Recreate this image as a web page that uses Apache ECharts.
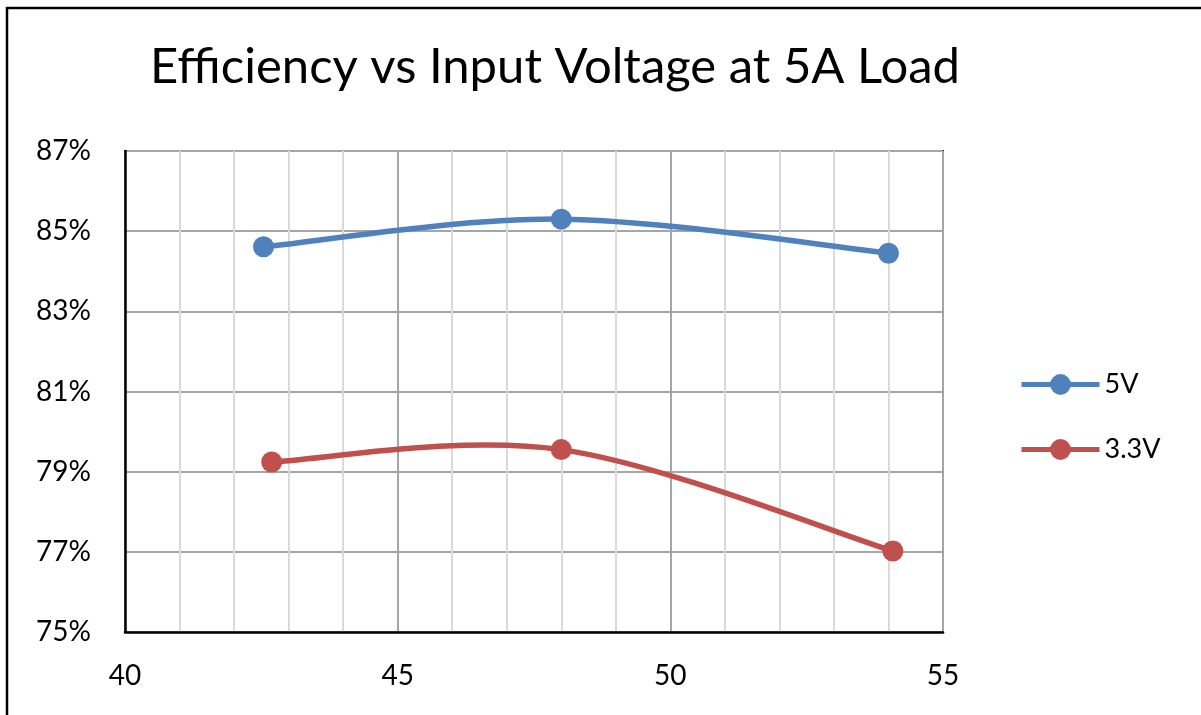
<!DOCTYPE html>
<html>
<head>
<meta charset="utf-8">
<title>Efficiency vs Input Voltage</title>
<script src="https://cdn.jsdelivr.net/npm/echarts@6/dist/echarts.min.js"></script>
<style>
  html, body { margin: 0; padding: 0; background: #fff; }
  #chart { width: 1201px; height: 715px; }
</style>
</head>
<body>
<div id="chart"></div>
<script>
  // input voltage (V) and efficiency (%)
  const vin5V = [42.54, 48.0, 54.0];
  const eff5V = [84.61, 85.30, 84.45];
  const vin3V3 = [42.69, 48.0, 54.08];
  const eff3V3 = [79.24, 79.55, 77.02];
  const seriesNames = ['5V', '3.3V'];
  const colors = ['#4f81bd', '#c0504d'];

  const font = 'Lato, "Noto Sans", sans-serif';
  const myChart = echarts.init(document.getElementById('chart'));

  const pairs = (xs, ys) => xs.map((x, i) => [x, ys[i]]);

  // excel style smoothed line: cubic bezier through the points (catmull-rom, 1/6)
  function smoothCurve(xs, ys, color) {
    return function (params, api) {
      if (params.dataIndex !== 0) return null;
      const p = xs.map((x, i) => api.coord([x, ys[i]]));
      const n = p.length;
      const at = (i) => p[Math.max(0, Math.min(n - 1, i))];
      let d = 'M' + p[0][0] + ',' + p[0][1];
      for (let i = 0; i < n - 1; i++) {
        const a = at(i - 1), b = at(i), c = at(i + 1), e = at(i + 2);
        const c1 = [b[0] + (c[0] - a[0]) / 6, b[1] + (c[1] - a[1]) / 6];
        const c2 = [c[0] - (e[0] - b[0]) / 6, c[1] - (e[1] - b[1]) / 6];
        d += ' C' + c1.join(',') + ' ' + c2.join(',') + ' ' + c.join(',');
      }
      return {
        type: 'path',
        shape: { pathData: d },
        style: { fill: 'none', stroke: color, lineWidth: 5.5, lineCap: 'round', lineJoin: 'round' },
        z2: 1
      };
    };
  }

  const option = {
    animation: false,
    textStyle: { fontFamily: font },
    title: {
      text: 'Efficiency vs Input Voltage at 5A Load',
      left: 550,
      textAlign: 'center',
      top: 38,
      textStyle: { fontFamily: font, fontSize: 49, fontWeight: 'normal', color: '#000' }
    },
    graphic: [
      {
        type: 'rect',
        shape: { x: 7, y: 8, width: 1400, height: 900 },
        style: { fill: 'none', stroke: '#000', lineWidth: 2.5 },
        z: 100
      }
    ],
    legend: {
      data: seriesNames,
      orient: 'vertical',
      left: 1014,
      top: 366,
      itemWidth: 78,
      itemHeight: 26,
      itemGap: 38,
      lineStyle: { width: 5, opacity: 1 },
      textStyle: { fontFamily: font, fontSize: 27, color: '#000' }
    },
    grid: {
      left: 125,
      top: 151,
      width: 818,
      height: 481,
      show: true,
      borderColor: '#000',
      borderWidth: 2
    },
    xAxis: {
      type: 'value',
      min: 40,
      max: 55,
      interval: 5,
      axisLine: { show: true, lineStyle: { color: '#000', width: 2.5 } },
      axisTick: { show: false },
      axisLabel: { fontSize: 28, color: '#000', margin: 30, fontFamily: font },
      splitLine: { show: true, lineStyle: { color: '#a6a6a6', width: 2 } },
      minorTick: { show: false, splitNumber: 5 },
      minorSplitLine: { show: true, lineStyle: { color: '#d9d9d9', width: 2 } }
    },
    yAxis: {
      type: 'value',
      min: 75,
      max: 87,
      interval: 2,
      axisLine: { show: true, lineStyle: { color: '#000', width: 2.5 } },
      axisTick: { show: false },
      axisLabel: { fontSize: 28, color: '#000', margin: 34, formatter: '{value}%', fontFamily: font },
      splitLine: { show: true, lineStyle: { color: '#a6a6a6', width: 2 } }
    },
    series: [
      {
        name: '5V',
        type: 'line',
        data: pairs(vin5V, eff5V),
        symbol: 'circle',
        symbolSize: 21,
        z: 3,
        lineStyle: { color: colors[0], width: 5, opacity: 0 },
        itemStyle: { color: colors[0] }
      },
      {
        name: '3.3V',
        type: 'line',
        data: pairs(vin3V3, eff3V3),
        symbol: 'circle',
        symbolSize: 21,
        z: 3,
        lineStyle: { color: colors[1], width: 5, opacity: 0 },
        itemStyle: { color: colors[1] }
      },
      {
        name: '5V',
        type: 'custom',
        data: pairs(vin5V, eff5V),
        renderItem: smoothCurve(vin5V, eff5V, colors[0]),
        z: 2
      },
      {
        name: '3.3V',
        type: 'custom',
        data: pairs(vin3V3, eff3V3),
        renderItem: smoothCurve(vin3V3, eff3V3, colors[1]),
        z: 2
      }
    ]
  };

  myChart.setOption(option);
</script>
</body>
</html>
